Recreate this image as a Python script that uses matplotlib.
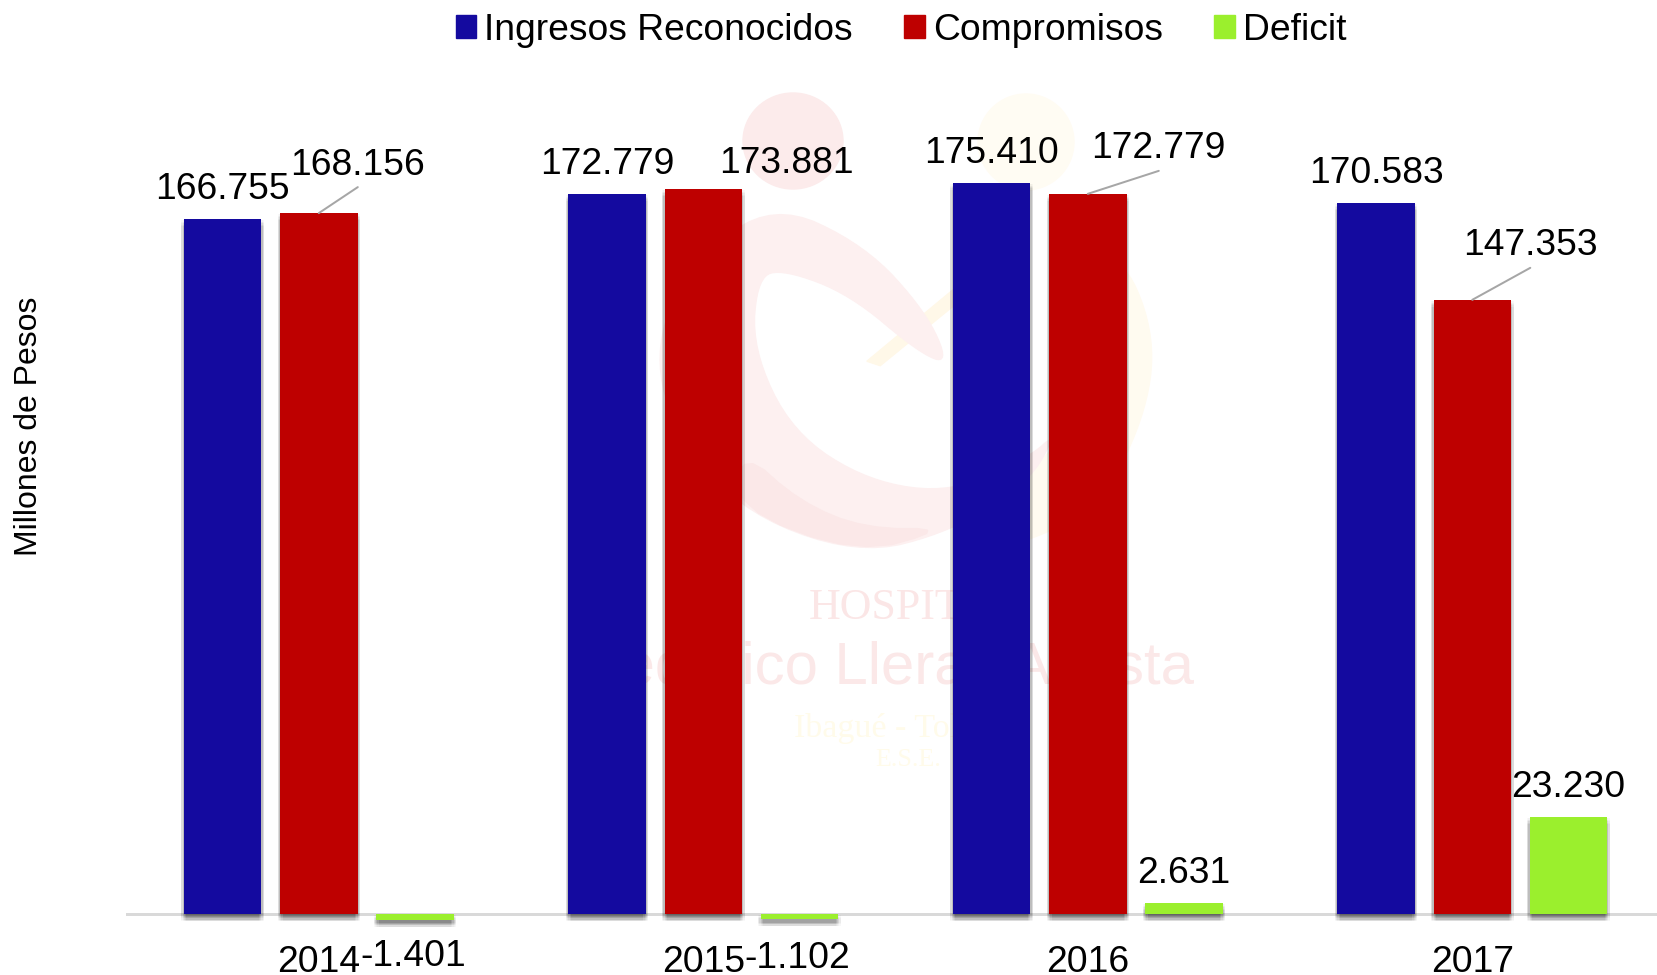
import numpy as np
import matplotlib
matplotlib.use("Agg")
import matplotlib.pyplot as plt
import matplotlib.patheffects as pe
from matplotlib.patches import Ellipse, Patch, Polygon

# Donnees
years = ["2014", "2015", "2016", "2017"]
ingresos = [166755, 172779, 175410, 170583]
compromisos = [168156, 173881, 172779, 147353]
deficit = [-1401, -1102, 2631, 23230]
ingresos_labels = ["166.755", "172.779", "175.410", "170.583"]
compromisos_labels = ["168.156", "173.881", "172.779", "147.353"]
deficit_labels = ["-1.401", "-1.102", "2.631", "23.230"]

BLUE = "#140A9F"
RED = "#BE0000"
GREEN = "#9BEF2D"
W, H = 1658, 975


def px(v):
    # taille en pixels -> points
    return v * 0.72


def smooth(pts, n=3):
    pts = np.array(pts, dtype=float)
    for _ in range(n):
        nxt = np.roll(pts, -1, axis=0)
        pts = np.column_stack([0.75 * pts + 0.25 * nxt, 0.25 * pts + 0.75 * nxt]).reshape(-1, 2)
    return pts


def zoomed(pts):
    # points du filigrane -> pixels de la figure
    pts = np.array(pts, dtype=float)
    return np.column_stack([620 + pts[:, 0] / 2.613, 80 + pts[:, 1] / 2.24])


plt.rcParams["font.family"] = ["Liberation Sans", "DejaVu Sans"]
fig = plt.figure(figsize=(W / 100, H / 100), dpi=100)

# Filigrane du fond
bg = fig.add_axes([0, 0, 1, 1], zorder=0)
bg.set_xlim(0, W)
bg.set_ylim(H, 0)
bg.axis("off")
bg.add_patch(Ellipse((793, 141), 100, 96, color="#FCEBEB"))
bg.add_patch(Ellipse((1026, 142), 96, 96, color="#FFFCF3"))
yellow_arc = [(1320, 400), (1400, 580), (1370, 760), (1250, 960), (1020, 1050), (900, 1040),
              (1050, 900), (1200, 760), (1250, 600), (1230, 430)]
bg.add_patch(Polygon(smooth(zoomed(yellow_arc)), color="#FFFBF0"))
yellow_wedge = [(645, 630), (870, 470), (880, 500), (680, 640)]
bg.add_patch(Polygon(zoomed(yellow_wedge), color="#FFF8E8"))
swoosh = [(860, 637), (800, 520), (640, 370), (400, 275), (200, 400), (95, 570), (120, 750),
          (300, 960), (620, 1065), (870, 1010), (1070, 900), (1140, 790), (1070, 845),
          (870, 925), (650, 900), (450, 790), (345, 600), (360, 440), (430, 425),
          (600, 480), (780, 610)]
bg.add_patch(Polygon(smooth(zoomed(swoosh)), color="#FDF0F0"))
swoosh_dark = [(320, 830), (470, 945), (640, 1005), (860, 1005), (620, 1062), (300, 958)]
bg.add_patch(Polygon(smooth(zoomed(swoosh_dark), 2), color="#FBE8E8"))
bg.text(809, 608, "HOSPITAL", family="Liberation Serif", fontsize=px(44), color="#FBE6E6", va="center")
bg.text(1194, 668, "Federico Lleras Acosta", fontsize=px(60), color="#FBE8E8", ha="right", va="center")
bg.text(794, 729, "Ibagué - Tolima", family="Liberation Serif", fontsize=px(34), color="#FFFBEA", va="center")
bg.text(875, 760, "E.S.E.", family="Liberation Serif", fontsize=px(26), color="#FFFBEA", va="center")

# Graphique principal
k = 0.004168
top, bottom = 0, 935
ax = fig.add_axes([126 / W, 1 - bottom / H, 1 - 126 / W, (bottom - top) / H], zorder=1)
ax.patch.set_alpha(0)
ax.set_xlim(-0.5014, 3.483)
ax.set_ylim(-(bottom - 914) / k, 914 / k)

x = np.arange(len(years))
width = 77.5 / 384.5
step = 96.2 / 384.5

# ombre douce sous les barres
shadow = [pe.SimplePatchShadow(offset=(dx, dy), shadow_rgbFace="black", alpha=0.028)
          for dx in (-1.8, -0.9, 0, 0.9, 1.8) for dy in (-0.8, -2, -3, -4, -5)] + [pe.Normal()]

ax.axhline(0, color="#D9D9D9", linewidth=px(3), zorder=1)
for off, values, color, name in [(-step, ingresos, BLUE, "Ingresos Reconocidos"),
                                 (0, compromisos, RED, "Compromisos"),
                                 (step, deficit, GREEN, "Deficit")]:
    bars = ax.bar(x + off, values, width, color=color, zorder=2, label=name)
    for b in bars:
        b.set_path_effects(shadow)

# Etiquettes : decalage en pixels depuis le haut de chaque barre
ing_offsets = [(0, 29), (0, 29), (0, 29), (0, 30)]
com_offsets = [(39, 48), (83, 26), (71, 45), (58, 54)]
def_offsets = [(-2, -42), (-2, -44), (0, 30), (0, 30)]
com_leaders = [True, False, True, True]
fs = px(37.3)

for i in x:
    ax.annotate(ingresos_labels[i], (i - step, ingresos[i]), xytext=ing_offsets[i],
                textcoords="offset pixels", ha="center", va="center", fontsize=fs, zorder=5)
    ax.annotate(compromisos_labels[i], (i, compromisos[i]), xytext=com_offsets[i],
                textcoords="offset pixels", ha="center", va="center", fontsize=fs, zorder=5)
    ax.annotate(deficit_labels[i], (i + step, max(deficit[i], 0)), xytext=def_offsets[i],
                textcoords="offset pixels", ha="center", va="center", fontsize=fs, zorder=5)
    if com_leaders[i]:
        # trait de rappel gris vers l'etiquette
        dx, dy = com_offsets[i]
        ax.annotate("", (i, compromisos[i]), xytext=(dx, dy - 22), textcoords="offset pixels",
                    arrowprops=dict(arrowstyle="-", color="#A6A6A6", linewidth=px(2),
                                    shrinkA=0, shrinkB=0), zorder=5)

ax.set_xticks(x)
ax.set_xticklabels(years, fontsize=fs)
ax.tick_params(axis="x", length=0, pad=px(10))
ax.set_yticks([])
for s in ax.spines.values():
    s.set_visible(False)

ax.set_ylabel("Millones de Pesos", fontsize=px(32))
ax.yaxis.set_label_coords((44 - 126) / (W - 126), (bottom - 426) / (bottom - top))

handles = [Patch(color=BLUE), Patch(color=RED), Patch(color=GREEN)]
fig.legend(handles, ["Ingresos Reconocidos", "Compromisos", "Deficit"], ncols=3, loc="center",
           bbox_to_anchor=(901 / W, 1 - 30 / H), frameon=False, fontsize=fs,
           handlelength=0.55, handleheight=0.55, handletextpad=0.22, columnspacing=1.37,
           borderpad=0, borderaxespad=0)

fig.savefig("out.png", dpi=100)
